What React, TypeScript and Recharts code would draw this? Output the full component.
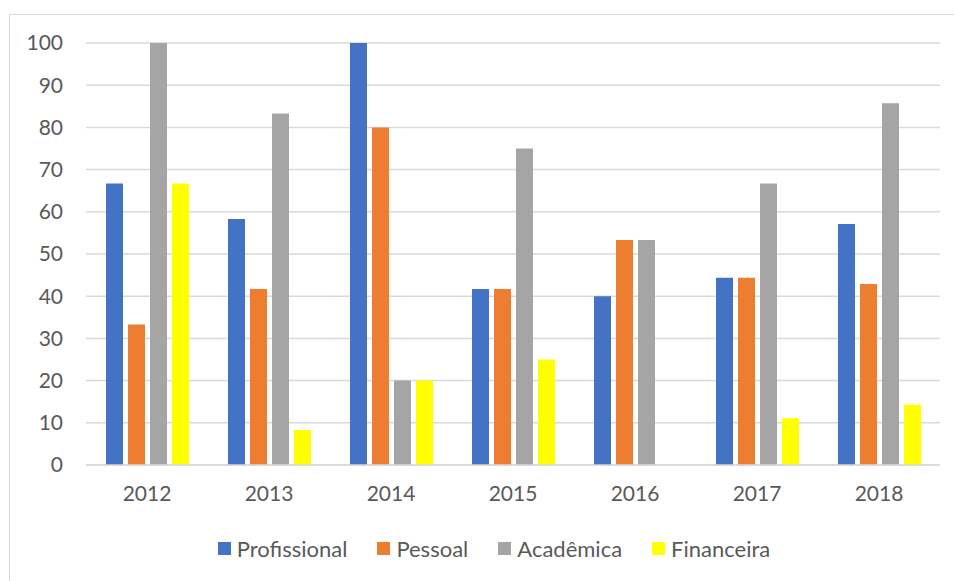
import { BarChart, Bar, XAxis, YAxis, CartesianGrid } from "recharts";

const years = ["2012", "2013", "2014", "2015", "2016", "2017", "2018"];
const profissional = [66.7, 58.3, 100, 41.7, 40, 44.4, 57.1];
const pessoal = [33.3, 41.7, 80, 41.7, 53.3, 44.4, 42.9];
const academica = [100, 83.3, 20, 75, 53.3, 66.7, 85.7];
const financeira = [66.7, 8.3, 20, 25, 0, 11.1, 14.3];
const yTicks = [0, 10, 20, 30, 40, 50, 60, 70, 80, 90, 100];

const seriesList = [
  { key: "Profissional", color: "#4472C4" },
  { key: "Pessoal", color: "#ED7D31" },
  { key: "Acadêmica", color: "#A5A5A5" },
  { key: "Financeira", color: "#FFFF00" },
];

const data = years.map((year, i) => ({
  year,
  Profissional: profissional[i],
  Pessoal: pessoal[i],
  Acadêmica: academica[i],
  Financeira: financeira[i],
}));

const font = "Lato, 'Noto Sans', sans-serif";
const textColor = "#595959";
const gridColor = "#D9D9D9";

export default function App() {
  return (
    <div style={{ position: "fixed", left: 0, top: 0, width: 954, height: 581, overflow: "hidden", background: "#fff" }}>
      <div
        style={{
          position: "absolute",
          left: 9,
          top: 14,
          width: 980,
          height: 620,
          border: `1px solid ${gridColor}`,
        }}
      />
      <div style={{ position: "absolute", left: 0, top: 0 }}>
        <BarChart
          width={954}
          height={581}
          data={data}
          margin={{ top: 43, right: 14, left: 26, bottom: 0 }}
          barSize={17}
          barGap={5}
        >
          <CartesianGrid vertical={false} stroke={gridColor} strokeWidth={1.5} />
          <XAxis
            dataKey="year"
            height={116}
            stroke={gridColor}
            strokeWidth={1.5}
            tickLine={false}
            tickSize={0}
            tickMargin={21}
            tick={{ fill: textColor, fontSize: 21, fontFamily: font }}
          />
          <YAxis
            width={60}
            domain={[0, 100]}
            ticks={yTicks}
            axisLine={false}
            tickLine={false}
            tickSize={0}
            tickMargin={23}
            tick={{ fill: textColor, fontSize: 21, fontFamily: font }}
          />
          {seriesList.map((s) => (
            <Bar key={s.key} dataKey={s.key} fill={s.color} isAnimationActive={false} />
          ))}
        </BarChart>
      </div>
      <div
        style={{
          position: "absolute",
          left: 17,
          top: 535,
          width: 954,
          display: "flex",
          justifyContent: "center",
          gap: 30,
          fontFamily: font,
          fontSize: 22,
          color: textColor,
        }}
      >
        {seriesList.map((s) => (
          <div key={s.key} style={{ display: "flex", alignItems: "center", gap: 6 }}>
            <span style={{ width: 13, height: 13, background: s.color, display: "inline-block" }} />
            <span>{s.key}</span>
          </div>
        ))}
      </div>
    </div>
  );
}
